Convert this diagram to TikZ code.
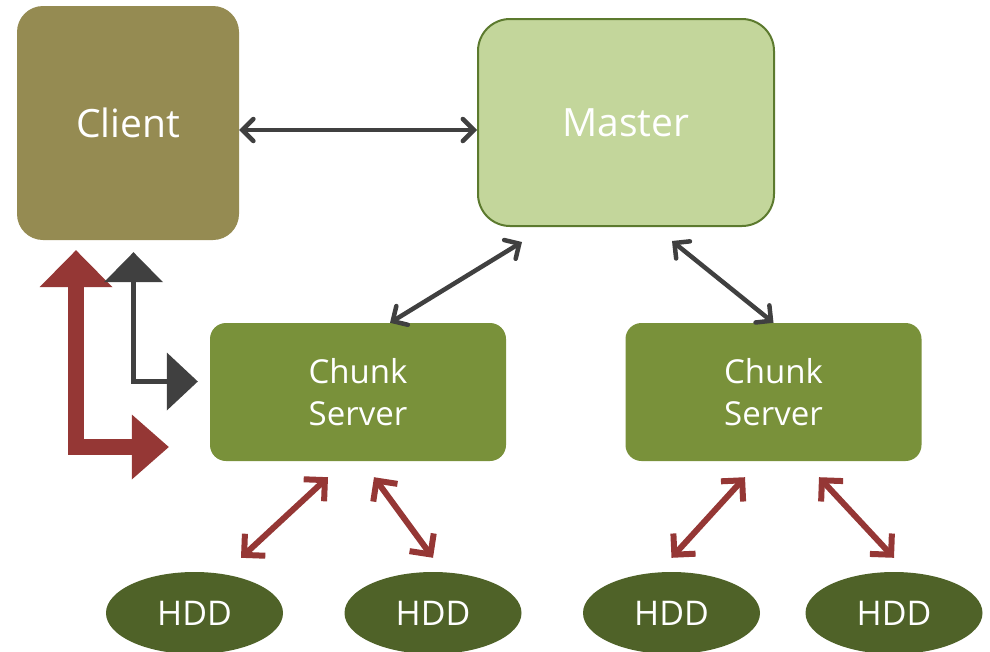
\documentclass[tikz,border=0pt]{standalone}
\usepackage{fontspec}
\setmainfont{Open Sans}
\usetikzlibrary{arrows.meta,shapes.geometric}
\definecolor{clientfill}{HTML}{958B52}
\definecolor{masterfill}{HTML}{C3D69B}
\definecolor{masterline}{HTML}{5C7A2E}
\definecolor{chunkfill}{HTML}{79913A}
\definecolor{hddfill}{HTML}{4F6228}
\definecolor{linkred}{HTML}{953735}
\definecolor{linkgray}{HTML}{404040}
\tikzset{
  box/.style={rectangle, inner sep=0pt, text=white, align=center},
  clientbox/.style={box, fill=clientfill, minimum width=222pt, minimum height=234pt,
    rounded corners=26pt, font=\fontsize{39}{46}\selectfont},
  masterbox/.style={box, fill=masterfill, draw=masterline, line width=2pt,
    minimum width=296pt, minimum height=207pt, rounded corners=32pt,
    font=\fontsize{39}{46}\selectfont},
  chunkbox/.style={box, fill=chunkfill, minimum width=296pt, minimum height=138pt,
    rounded corners=16pt, font=\fontsize{33}{42}\selectfont},
  hdd/.style={ellipse, inner sep=0pt, fill=hddfill, text=white,
    minimum width=177pt, minimum height=82pt, font=\fontsize{34}{40}\selectfont},
  graylink/.style={draw=linkgray, line width=4.5pt,
    {Straight Barb[length=11pt,width=22pt,line cap=round]}-{Straight Barb[length=11pt,width=22pt,line cap=round]}},
  redlink/.style={draw=linkred, line width=6pt,
    {Straight Barb[length=15pt,width=30pt]}-{Straight Barb[length=15pt,width=30pt]}},
  redflow/.style={draw=linkred, line width=16pt, line join=miter,
    {Triangle[length=37pt,width=73pt,line width=0pt]}-{Triangle[length=37pt,width=65pt,line width=0pt]}},
  grayflow/.style={draw=linkgray, line width=5pt, line join=miter,
    {Triangle[length=30pt,width=59pt,line width=0pt]}-{Triangle[length=31pt,width=58pt,line width=0pt]}},
}
\begin{document}
\begin{tikzpicture}[x=1pt,y=-1pt]
  \useasboundingbox (0,0) rectangle (990,651);

  % main components
  \node[clientbox] (client) at (128,123) {Client};
  \node[masterbox] (master) at (626,122.5) {\raisebox{-2pt}{Master}};
  \node[chunkbox] (cs1) at (358,392) {Chunk\\Server};
  \node[chunkbox] (cs2) at (773.5,392) {Chunk\\Server};

  % disks
  \node[hdd] (hdd1) at (194.5,613) {\raisebox{-2pt}{HDD}};
  \node[hdd] (hdd2) at (433,613) {\raisebox{-2pt}{HDD}};
  \node[hdd] (hdd3) at (671.5,613) {\raisebox{-2pt}{HDD}};
  \node[hdd] (hdd4) at (894,613) {\raisebox{-2pt}{HDD}};

  % control links
  \draw[graylink] ([yshift=-7pt]client.east) -- ([yshift=-7.5pt]master.west);
  \draw[graylink] ([xshift=-104pt,yshift=-15pt]master.south) -- ([xshift=32pt]cs1.north);
  \draw[graylink] ([xshift=46pt,yshift=-14pt]master.south) -- (cs2.north);

  % disk links
  \draw[redlink] ([xshift=-30pt,yshift=-16pt]cs1.south) -- ([xshift=46.5pt,yshift=14pt]hdd1.north);
  \draw[redlink] ([xshift=16pt,yshift=-16pt]cs1.south) -- ([yshift=14pt]hdd2.north);
  \draw[redlink] ([xshift=-28.5pt,yshift=-16pt]cs2.south) -- ([yshift=14pt]hdd3.north);
  \draw[redlink] ([xshift=45.5pt,yshift=-16pt]cs2.south) -- ([yshift=14pt]hdd4.north);

  % data flow between client and chunk server
  \coordinate (redtop) at ([xshift=-52pt,yshift=-10pt]client.south);
  \coordinate (redend) at ([xshift=-41pt,yshift=-55pt]cs1.west);
  \coordinate (graytop) at ([xshift=5.5pt,yshift=-12pt]client.south);
  \coordinate (grayend) at ([xshift=-12pt,yshift=10.5pt]cs1.west);
  \draw[redflow] (redtop) |- (redend);
  \draw[grayflow] (graytop) |- (grayend);
\end{tikzpicture}
\end{document}
